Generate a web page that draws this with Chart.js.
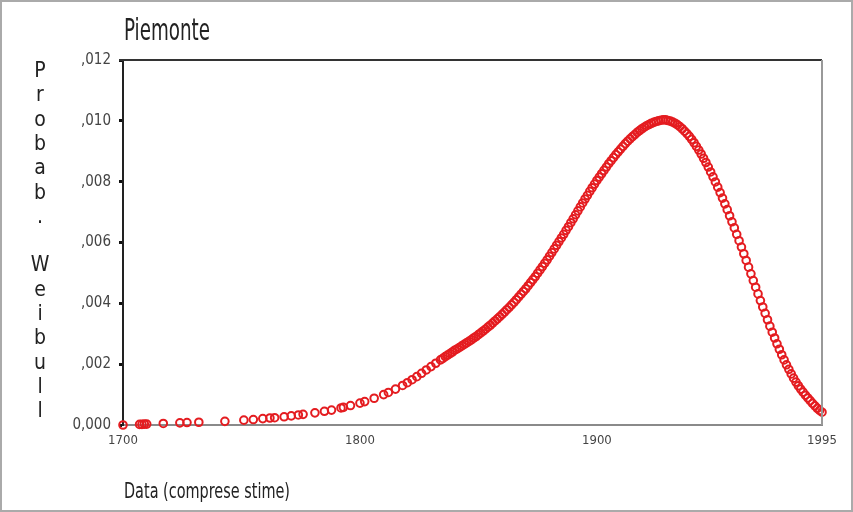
<!DOCTYPE html>
<html>
<head>
<meta charset="utf-8">
<title>Piemonte</title>
<script src="https://cdn.jsdelivr.net/npm/chart.js@4.4.1/dist/chart.umd.min.js"></script>
<style>
  html, body { margin: 0; padding: 0; background: #fff; }
  canvas { display: block; }
</style>
</head>
<body>
<canvas id="weibullChart" width="853" height="512"></canvas>
<script>
// Years of each estimate (x)
const years = [
  1700, 1707, 1708, 1709, 1710, 1717, 1724, 1727, 1732, 1743,
  1751, 1755, 1759, 1762, 1764, 1768, 1771, 1774, 1776, 1781,
  1785, 1788, 1792, 1793, 1796,
  1800, 1802, 1806, 1810, 1812, 1815, 1818, 1820, 1822, 1824,
  1826, 1828, 1830, 1832, 1834, 1835, 1836, 1837, 1838, 1839,
  1840, 1841, 1842, 1843, 1844, 1845, 1846, 1847, 1848, 1849,
  1850, 1851, 1852, 1853, 1854, 1855, 1856, 1857, 1858, 1859,
  1860, 1861, 1862, 1863, 1864, 1865, 1866, 1867, 1868, 1869,
  1870, 1871, 1872, 1873, 1874, 1875, 1876, 1877, 1878, 1879,
  1880, 1881, 1882, 1883, 1884, 1885, 1886, 1887, 1888, 1889,
  1890, 1891, 1892, 1893, 1894, 1895, 1896, 1897, 1898, 1899,
  1900, 1901, 1902, 1903, 1904, 1905, 1906, 1907, 1908, 1909,
  1910, 1911, 1912, 1913, 1914, 1915, 1916, 1917, 1918, 1919,
  1920, 1921, 1922, 1923, 1924, 1925, 1926, 1927, 1928, 1929,
  1930, 1931, 1932, 1933, 1934, 1935, 1936, 1937, 1938, 1939,
  1940, 1941, 1942, 1943, 1944, 1945, 1946, 1947, 1948, 1949,
  1950, 1951, 1952, 1953, 1954, 1955, 1956, 1957, 1958, 1959,
  1960, 1961, 1962, 1963, 1964, 1965, 1966, 1967, 1968, 1969,
  1970, 1971, 1972, 1973, 1974, 1975, 1976, 1977, 1978, 1979,
  1980, 1981, 1982, 1983, 1984, 1985, 1986, 1987, 1988, 1989,
  1990, 1991, 1992, 1993, 1994, 1995,
];

// Weibull probability for each year (y)
const probab = [
  0.00000, 0.00002, 0.00002, 0.00003, 0.00003, 0.00005, 0.00007, 0.00008, 0.00009, 0.00012,
  0.00016, 0.00018, 0.00021, 0.00023, 0.00024, 0.00027, 0.00030, 0.00033, 0.00035, 0.00040,
  0.00045, 0.00049, 0.00056, 0.00058, 0.00064,
  0.00072, 0.00077, 0.00088, 0.00100, 0.00107, 0.00118, 0.00130, 0.00139, 0.00149, 0.00159,
  0.00170, 0.00181, 0.00192, 0.00203, 0.00214, 0.00219, 0.00225, 0.00230, 0.00235, 0.00240,
  0.00246, 0.00250, 0.00255, 0.00260, 0.00265, 0.00270, 0.00275, 0.00280, 0.00286, 0.00291,
  0.00297, 0.00303, 0.00309, 0.00315, 0.00322, 0.00328, 0.00335, 0.00342, 0.00349, 0.00356,
  0.00364, 0.00371, 0.00379, 0.00387, 0.00395, 0.00403, 0.00412, 0.00421, 0.00430, 0.00439,
  0.00448, 0.00458, 0.00468, 0.00478, 0.00488, 0.00499, 0.00510, 0.00521, 0.00532, 0.00543,
  0.00555, 0.00567, 0.00579, 0.00591, 0.00603, 0.00615, 0.00627, 0.00640, 0.00652, 0.00665,
  0.00678, 0.00691, 0.00704, 0.00717, 0.00730, 0.00743, 0.00755, 0.00768, 0.00780, 0.00792,
  0.00804, 0.00815, 0.00826, 0.00837, 0.00848, 0.00859, 0.00869, 0.00879, 0.00889, 0.00898,
  0.00907, 0.00916, 0.00925, 0.00933, 0.00941, 0.00948, 0.00955, 0.00962, 0.00968, 0.00974,
  0.00979, 0.00984, 0.00988, 0.00992, 0.00995, 0.00998, 0.01000, 0.01002, 0.01003, 0.01003,
  0.01001, 0.00999, 0.00996, 0.00992, 0.00987, 0.00981, 0.00974, 0.00966, 0.00958, 0.00949,
  0.00939, 0.00928, 0.00916, 0.00904, 0.00891, 0.00877, 0.00863, 0.00848, 0.00832, 0.00816,
  0.00799, 0.00782, 0.00764, 0.00746, 0.00727, 0.00708, 0.00688, 0.00668, 0.00648, 0.00627,
  0.00606, 0.00585, 0.00563, 0.00541, 0.00519, 0.00497, 0.00475, 0.00453, 0.00431, 0.00409,
  0.00388, 0.00367, 0.00346, 0.00325, 0.00305, 0.00286, 0.00267, 0.00249, 0.00231, 0.00214,
  0.00198, 0.00183, 0.00168, 0.00154, 0.00141, 0.00129, 0.00118, 0.00108, 0.00098, 0.00089,
  0.00080, 0.00071, 0.00063, 0.00055, 0.00048, 0.00042,
];

// Axis ticks
const xTicks = [1700, 1800, 1900, 1995];
const yTicks = [0, 0.002, 0.004, 0.006, 0.008, 0.010, 0.012];

const titleText = "Piemonte";
const yTitleText = "Probab. Weibull";
const xTitleText = "Data (comprese stime)";

const fontFamily = "'Liberation Sans Narrow', 'DejaVu Sans Condensed', 'Liberation Sans', sans-serif";
Chart.defaults.font.family = fontFamily;

// Italian style tick labels: ,002 ... and 0,000 for zero
function formatProb(value) {
  if (Math.abs(value) < 1e-9) return "0,000";
  return value.toFixed(3).replace("0.", ",");
}

// Frame, titles and the stacked y title
const decorPlugin = {
  id: "decor",
  afterDraw(chart) {
    const ctx = chart.ctx;
    const area = chart.chartArea;
    ctx.save();

    // top and right sides of the plot frame
    ctx.lineWidth = 2;
    ctx.strokeStyle = "#333";
    ctx.beginPath();
    ctx.moveTo(area.left - 4, area.top);
    ctx.lineTo(area.right, area.top);
    ctx.stroke();
    ctx.strokeStyle = "#999";
    ctx.beginPath();
    ctx.moveTo(area.right, area.top);
    ctx.lineTo(area.right, area.bottom);
    ctx.stroke();

    ctx.fillStyle = "#222";
    ctx.textAlign = "left";
    ctx.textBaseline = "alphabetic";

    // chart title
    ctx.font = "31px " + fontFamily;
    ctx.fillText(titleText, 124, 40, 86);

    // x axis title
    ctx.font = "22px " + fontFamily;
    ctx.fillText(xTitleText, 124, 498, 166);

    // y axis title, one letter per line
    ctx.font = "21px " + fontFamily;
    ctx.textAlign = "center";
    yTitleText.split("").forEach((ch, i) => {
      ctx.fillText(ch, 40, 77 + i * 24.3);
    });

    // outer picture border
    ctx.strokeStyle = "#aaa";
    ctx.lineWidth = 2;
    ctx.strokeRect(1, 1, 851, 510);
    ctx.restore();
  },
};

const points = years.map((year, i) => ({ x: year, y: probab[i] }));

const ctx = document.getElementById("weibullChart").getContext("2d");
new Chart(ctx, {
  type: "scatter",
  data: {
    datasets: [
      {
        label: "Piemonte",
        data: points,
        pointRadius: 3.8,
        pointBorderWidth: 2,
        borderColor: "rgb(228, 28, 32)",
        backgroundColor: "rgba(255, 255, 255, 0)",
        showLine: false,
        clip: false,
      },
    ],
  },
  options: {
    responsive: false,
    animation: false,
    layout: {
      padding: { left: 0, right: 31, top: 60, bottom: 0 },
    },
    plugins: {
      legend: { display: false },
      tooltip: { enabled: false },
    },
    scales: {
      x: {
        type: "linear",
        min: 1700,
        max: 1995,
        afterBuildTicks: (scale) => {
          scale.ticks = xTicks.map((v) => ({ value: v }));
        },
        afterFit: (scale) => {
          scale.height = 87;
        },
        grid: { display: false, drawTicks: false },
        border: { display: true, color: "#8a8a8a", width: 2 },
        ticks: {
          callback: (value) => String(value),
          font: { size: 13 },
          color: "#444",
          padding: 8,
          maxRotation: 0,
          autoSkip: false,
        },
      },
      y: {
        min: 0,
        max: 0.012,
        afterBuildTicks: (scale) => {
          scale.ticks = yTicks.map((v) => ({ value: v }));
        },
        afterFit: (scale) => {
          scale.width = 123;
        },
        grid: {
          drawOnChartArea: false,
          drawTicks: true,
          tickLength: 4,
          tickWidth: 3,
          tickColor: "#111",
        },
        border: { display: true, color: "#222", width: 2 },
        ticks: {
          callback: (value) => formatProb(value),
          font: { size: 15 },
          color: "#444",
          padding: 8,
        },
      },
    },
  },
  plugins: [decorPlugin],
});
</script>
</body>
</html>
